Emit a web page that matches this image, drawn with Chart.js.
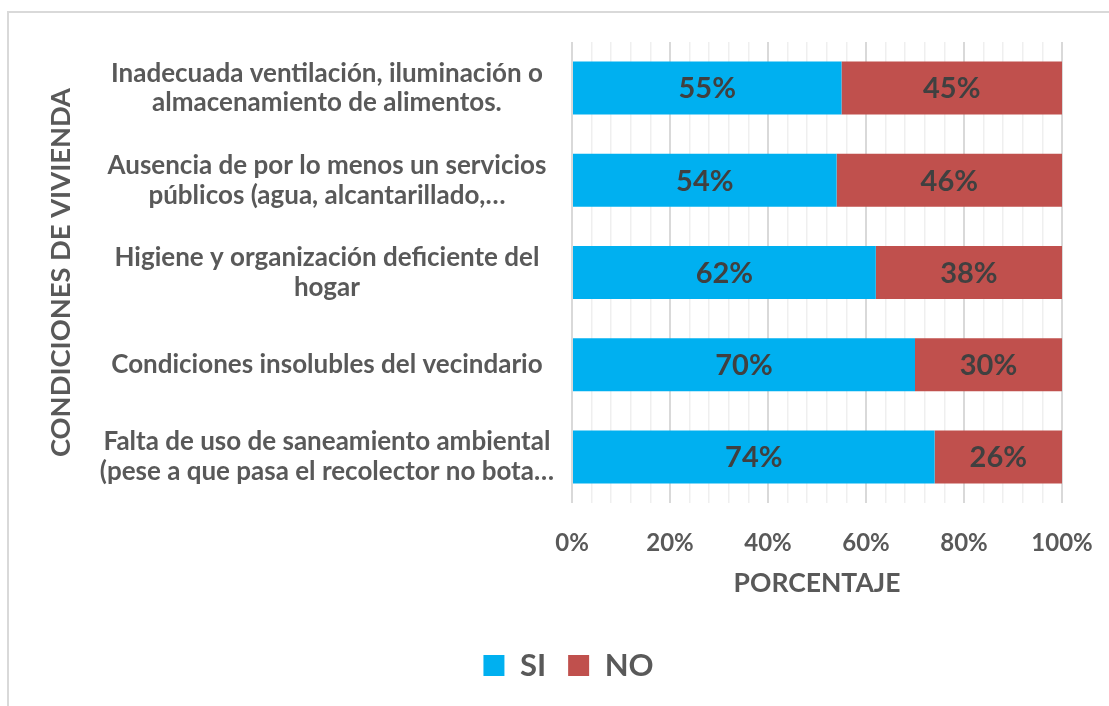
<!DOCTYPE html>
<html>
<head>
<meta charset="utf-8">
<script src="https://cdn.jsdelivr.net/npm/chart.js@4"></script>
<style>
  html, body { margin: 0; padding: 0; background: #ffffff; }
  #wrap { position: relative; width: 1109px; height: 706px; overflow: hidden; }
  #frame { position: absolute; left: 7px; top: 11px; width: 1200px; height: 800px; border: 2px solid #d9d9d9; box-sizing: border-box; }
  canvas { position: absolute; left: 0; top: 0; }
</style>
</head>
<body>
<div id="wrap">
  <div id="frame"></div>
  <canvas id="c" width="1109" height="706"></canvas>
</div>
<script>
const categories = [
  ["Inadecuada ventilación, iluminación o", "almacenamiento de alimentos."],
  ["Ausencia de por lo menos un servicios", "públicos (agua, alcantarillado,…"],
  ["Higiene y organización deficiente del", "hogar"],
  ["Condiciones insolubles del vecindario"],
  ["Falta de uso de saneamiento ambiental", "(pese a que pasa el recolector no bota…"]
];
const siValues = [55, 54, 62, 70, 74];
const noValues = [45, 46, 38, 30, 26];
const seriesNames = ["SI", "NO"];
const xTickStep = 4;
const xMajorStep = 20;

const FONT = "Lato, 'Open Sans', sans-serif";
const TEXT = "#595959";
const PAD_LEFT = 75;
const PLOT_LEFT = 572;

const dataLabelPlugin = {
  id: 'dataLabels',
  afterDatasetsDraw(chart) {
    const ctx = chart.ctx;
    ctx.save();
    ctx.font = "bold 29px " + FONT;
    ctx.fillStyle = "#404040";
    ctx.textAlign = "center";
    ctx.textBaseline = "middle";
    chart.data.datasets.forEach((ds, di) => {
      const meta = chart.getDatasetMeta(di);
      meta.data.forEach((bar, i) => {
        const cx = (bar.x + bar.base) / 2;
        ctx.fillText(ds.data[i] + "%", cx, bar.y + 1);
      });
    });
    ctx.restore();
  }
};

new Chart(document.getElementById('c'), {
  type: 'bar',
  data: {
    labels: categories,
    datasets: [
      { label: seriesNames[0], data: siValues, backgroundColor: '#00B0F0', borderWidth: 0 },
      { label: seriesNames[1], data: noValues, backgroundColor: '#C0504D', borderWidth: 0 }
    ]
  },
  options: {
    indexAxis: 'y',
    responsive: false,
    animation: false,
    devicePixelRatio: 1,
    layout: { padding: { left: PAD_LEFT, right: 47, top: 42, bottom: 15 } },
    datasets: { bar: { barPercentage: 0.575, categoryPercentage: 1 } },
    scales: {
      x: {
        stacked: true,
        min: 0,
        max: 100,
        border: { display: false },
        grid: {
          drawTicks: true,
          tickLength: 20,
          tickColor: 'rgba(0,0,0,0)',
          color: c => (c.tick && c.tick.value % xMajorStep === 0) ? '#d9d9d9' : '#efefef',
          lineWidth: c => (c.tick && c.tick.value % xMajorStep === 0) ? 2 : 1.5
        },
        ticks: {
          stepSize: xTickStep,
          autoSkip: false,
          maxRotation: 0,
          padding: 6,
          color: TEXT,
          font: { family: FONT, size: 24, weight: 'bold' },
          callback: v => (v % xMajorStep === 0) ? v + '%' : ''
        },
        title: {
          display: true,
          text: 'PORCENTAJE',
          color: TEXT,
          padding: { top: 8, bottom: 29 },
          font: { family: FONT, size: 26.5, weight: 'bold' }
        },
        afterFit: s => { s.height = 125; }
      },
      y: {
        stacked: true,
        border: { display: false },
        grid: {
          display: true,
          drawOnChartArea: false,
          drawTicks: true,
          tickLength: 18,
          color: 'rgba(0,0,0,0)',
          tickColor: 'rgba(0,0,0,0)'
        },
        ticks: {
          crossAlign: 'center',
          padding: 0,
          color: TEXT,
          font: { family: FONT, size: 26, weight: 'bold', lineHeight: 1.15 }
        },
        title: {
          display: true,
          text: 'CONDICIONES DE VIVIENDA',
          color: TEXT,
          padding: { top: -30, bottom: 0 },
          font: { family: FONT, size: 27.3, weight: 'bold' }
        },
        afterFit: s => { s.width = PLOT_LEFT - PAD_LEFT; }
      }
    },
    plugins: {
      legend: {
        position: 'bottom',
        labels: {
          color: TEXT,
          boxWidth: 21,
          boxHeight: 21,
          padding: 22,
          font: { family: FONT, size: 31, weight: 'bold' }
        }
      },
      tooltip: { enabled: false }
    }
  },
  plugins: [dataLabelPlugin]
});
</script>
</body>
</html>
